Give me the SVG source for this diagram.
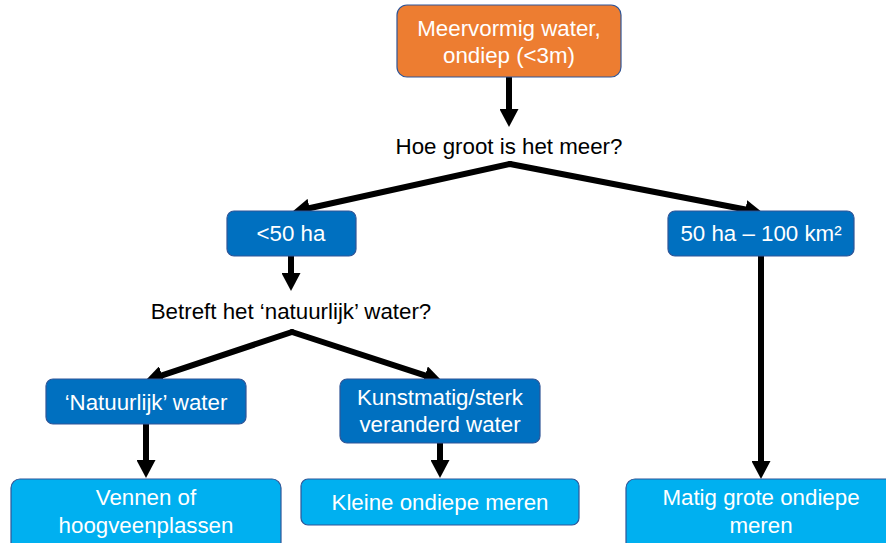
<svg xmlns="http://www.w3.org/2000/svg" width="886" height="543" viewBox="0 0 886 543">
<style>
.box{stroke:#2F5597;stroke-width:1.2}
.orange{fill:#ED7D31}
.dark{fill:#0070C0}
.light{fill:#00B0F0}
.t{font-family:"Liberation Sans",Arial,sans-serif;font-size:22.3px;text-anchor:middle}
.w{fill:#FFFFFF}
.k{fill:#000000}
.c{fill:none;stroke:#000;stroke-width:6;stroke-linecap:butt}
.cr{fill:none;stroke:#000;stroke-width:6;stroke-linecap:round}
</style>
<defs>
<marker id="ah" markerUnits="userSpaceOnUse" viewBox="0 0 18 19" markerWidth="18" markerHeight="19" refX="4" refY="9.5" orient="auto">
<path d="M0,0 L18,9.5 L0,19 Z" fill="#000"/>
</marker>
</defs>
<rect width="886" height="543" fill="#FFFFFF"/>
<g id="connectors">
<line class="c" x1="509" y1="77" x2="509" y2="113" marker-end="url(#ah)"/>
<path class="cr" d="M510,164 L305.7,209" marker-end="url(#ah)"/>
<path class="cr" d="M510,164 L749.3,210.3" marker-end="url(#ah)"/>
<line class="c" x1="291" y1="256" x2="291" y2="277" marker-end="url(#ah)"/>
<path class="cr" d="M292,332 L158.3,376.6" marker-end="url(#ah)"/>
<path class="cr" d="M292,332 L428.7,376.7" marker-end="url(#ah)"/>
<line class="c" x1="146" y1="424" x2="146" y2="464" marker-end="url(#ah)"/>
<line class="c" x1="440" y1="443" x2="440" y2="464" marker-end="url(#ah)"/>
<line class="c" x1="761" y1="256" x2="761" y2="465" marker-end="url(#ah)"/>
</g>
<g id="start">
<rect class="box orange" x="397" y="5" width="224" height="72" rx="10"/>
<text class="t w" x="509" y="36">Meervormig water,</text>
<text class="t w" x="509" y="63">ondiep (&lt;3m)</text>
</g>
<g id="q1">
<text class="t k" x="509" y="154">Hoe groot is het meer?</text>
</g>
<g id="small">
<rect class="box dark" x="227" y="211" width="129" height="45" rx="7"/>
<text class="t w" x="291" y="241">&lt;50 ha</text>
</g>
<g id="medium">
<rect class="box dark" x="668" y="211" width="186" height="45" rx="7"/>
<text class="t w" x="761" y="241">50 ha – 100 km²</text>
</g>
<g id="q2">
<text class="t k" x="291" y="319">Betreft het ‘natuurlijk’ water?</text>
</g>
<g id="natural">
<rect class="box dark" x="46" y="379" width="200" height="45" rx="7"/>
<text class="t w" x="146" y="410">‘Natuurlijk’ water</text>
</g>
<g id="artificial">
<rect class="box dark" x="340" y="379" width="200" height="64" rx="7"/>
<text class="t w" x="440" y="405">Kunstmatig/sterk</text>
<text class="t w" x="440" y="432">veranderd water</text>
</g>
<g id="vennen">
<rect class="box light" x="11" y="479" width="270" height="72" rx="9"/>
<text class="t w" x="146" y="505">Vennen of</text>
<text class="t w" x="146" y="533">hoogveenplassen</text>
</g>
<g id="kleine">
<rect class="box light" x="301" y="479" width="278" height="46" rx="7"/>
<text class="t w" x="440" y="510">Kleine ondiepe meren</text>
</g>
<g id="matig">
<rect class="box light" x="626" y="479" width="272" height="72" rx="9"/>
<text class="t w" x="761" y="505">Matig grote ondiepe</text>
<text class="t w" x="761" y="533">meren</text>
</g>
</svg>
